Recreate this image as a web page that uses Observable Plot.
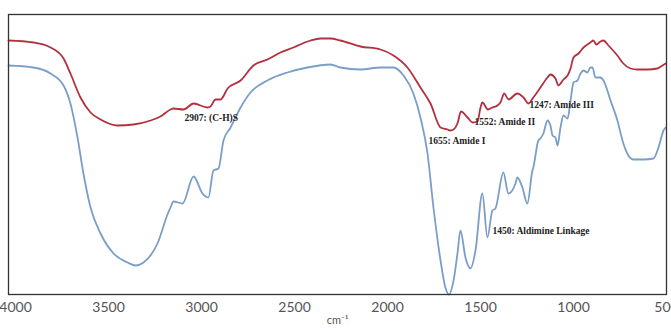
<!DOCTYPE html>
<html>
<head>
<meta charset="utf-8">
<script src="https://cdn.jsdelivr.net/npm/d3@7"></script>
<script src="https://cdn.jsdelivr.net/npm/@observablehq/plot@0.6"></script>
<style>
  html, body { margin: 0; padding: 0; background: #fff; overflow: hidden; }
  #chart svg { display: block; }
</style>
</head>
<body>
<div id="chart"></div>
<script>
// Wavenumber (cm-1) and relative transmittance readings
const redWn = [4038,3904,3812,3742,3705,3651,3597,3543,3452,3366,3274,3221,3167,3151,3097,3043,2968,2952,2925,2898,2860,2790,2721,2646,2576,2506,2414,2361,2307,2253,2146,2038,1968,1893,1823,1769,1715,1678,1662,1645,1624,1605,1570,1543,1516,1500,1490,1460,1436,1409,1393,1372,1350,1302,1269,1242,1216,1178,1140,1124,1097,1081,1054,1032,1016,1000,973,946,909,893,877,855,839,812,764,732,694,656,603,549,522,505];
const redT  = [254,252,247,236,221,197,182,175,169,170,174,178,185,186,185,191,187,188,195,195,206,214,229,235,242,247,254,256,256,254,248,245,239,227,207,191,167,165,164,165,171,183,177,172,173,187,192,185,187,189,192,201,195,201,197,191,197,207,217,220,216,209,215,219,226,237,241,247,252,254,250,253,254,249,239,231,226,225,225,226,229,231];

const blueWn = [4038,3904,3812,3742,3705,3667,3635,3597,3543,3473,3398,3355,3312,3237,3183,3167,3151,3102,3043,2995,2963,2936,2909,2882,2844,2790,2737,2646,2538,2431,2307,2253,2146,2038,1968,1914,1861,1823,1785,1753,1715,1689,1670,1645,1624,1608,1581,1554,1527,1490,1463,1436,1420,1377,1350,1312,1302,1275,1248,1221,1216,1189,1178,1162,1140,1124,1113,1097,1086,1070,1054,1032,1016,1000,979,962,946,925,909,898,882,855,839,801,764,732,705,678,624,570,543,516,505];
const blueT  = [229,227,221,209,191,157,121,87,61,41,32,29,32,51,80,87,93,91,118,101,97,124,126,154,167,187,202,214,222,227,230,227,225,227,227,219,201,177,141,87,34,7,0,14,41,64,37,26,44,101,57,84,86,122,101,111,117,107,91,124,127,154,156,161,174,169,159,157,149,167,179,176,194,212,214,221,224,222,227,227,217,217,214,194,174,151,139,135,135,136,147,164,167];

const xTicks = [4000,3500,3000,2500,2000,1500,1000,500];

const labelText = ["2907: (C-H)S","1655: Amide I","1552: Amide II","1247: Amide III","1450: Aldimine Linkage"];
const labelWn   = [3092,1780,1532,1237,1436];
const labelT    = [177,154,173,190,64];

const red = redWn.map((w,i) => ({wn: w, t: redT[i]}));
const blue = blueWn.map((w,i) => ({wn: w, t: blueT[i]}));
const labels = labelText.map((s,i) => ({text: s, wn: labelWn[i], t: labelT[i]}));

const chart = Plot.plot({
  width: 671,
  height: 328,
  marginTop: 14,
  marginBottom: 34,
  marginLeft: 8,
  marginRight: 5,
  style: {background: "#fff", overflow: "visible"},
  x: {domain: [4038, 500], ticks: xTicks, tickFormat: d => String(d), label: null},
  y: {domain: [0, 280], axis: null},
  marks: [
    Plot.axisX({ticks: xTicks, tickSize: 0, tickPadding: 8, fontSize: 14, fontFamily: "Lato, 'Open Sans', sans-serif", color: "#555", label: null, tickFormat: d => String(d)}),
    Plot.line(blue, {x: "wn", y: "t", stroke: "#7a9ec8", strokeWidth: 1.8, curve: "monotone-x"}),
    Plot.line(red, {x: "wn", y: "t", stroke: "#b3303e", strokeWidth: 1.8, curve: "monotone-x"}),
    Plot.frame({stroke: "#333", strokeWidth: 1.3}),
    Plot.text(labels, {x: "wn", y: "t", text: "text", textAnchor: "start", fontSize: 9.5, fontWeight: "bold", fontFamily: "'Liberation Serif', 'DejaVu Serif', serif", fill: "#222"}),
    Plot.text(["cm⁻¹"], {frameAnchor: "bottom", dy: 29, text: d => d, fontSize: 11, fontFamily: "Lato, 'Open Sans', sans-serif", fill: "#555"})
  ]
});
document.getElementById("chart").appendChild(chart);
</script>
</body>
</html>
